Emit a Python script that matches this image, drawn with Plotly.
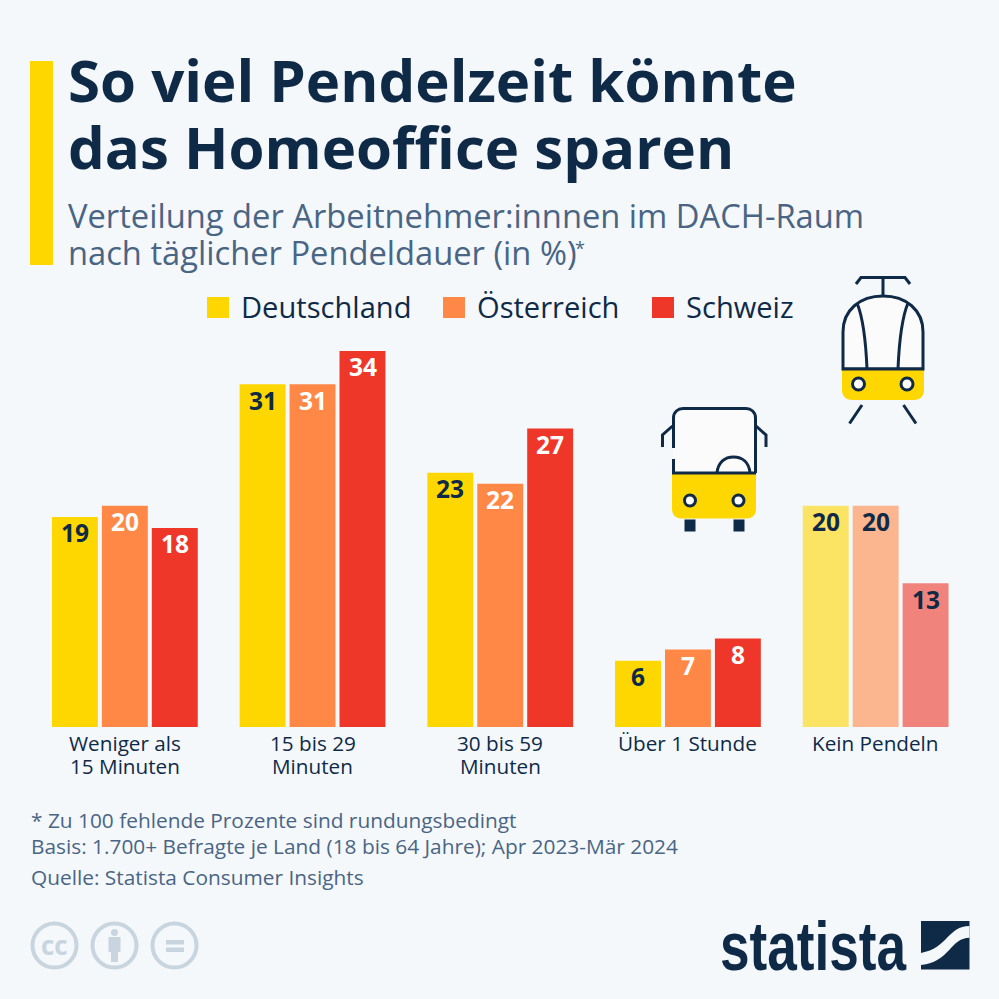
import plotly.graph_objects as go

kategorien = ["Weniger als<br>15 Minuten", "15 bis 29<br>Minuten", "30 bis 59<br>Minuten",
              "Über 1 Stunde", "Kein Pendeln"]
deutschland = [19, 31, 23, 6, 20]
oesterreich = [20, 31, 22, 7, 20]
schweiz = [18, 34, 27, 8, 13]
laender = ["Deutschland", "Österreich", "Schweiz"]

BG = "#f4f8fb"
NAVY = "#0f2a47"
GREY = "#4a6584"
GELB = "#ffd700"
ORANGE = "#ff8847"
ROT = "#ee3629"
ICON = "#c8d5df"
FENSTER = "#fbfbfc"
W = 999


def fx(x):
    return x / W


def fy(y):
    return 1 - y / W


# pfad in pixeln schreiben, wird in paper-koordinaten umgerechnet
def pfad(s):
    out, is_x = [], True
    for tok in s.split():
        if tok.isalpha():
            out.append(tok)
            is_x = True
        else:
            v = float(tok)
            out.append(f"{fx(v):.5f}" if is_x else f"{fy(v):.5f}")
            is_x = not is_x
    return " ".join(out)


shapes = []


def form(s, fill="rgba(0,0,0,0)", line=None, width=3):
    shapes.append(dict(type="path", xref="paper", yref="paper", path=pfad(s), fillcolor=fill,
                       line=dict(color=line or "rgba(0,0,0,0)", width=width if line else 0)))


def rechteck(x0, y0, x1, y1, fill):
    shapes.append(dict(type="rect", xref="paper", yref="paper", x0=fx(x0), x1=fx(x1), y0=fy(y0), y1=fy(y1),
                       fillcolor=fill, line=dict(width=0)))


def kreis(cx, cy, r, fill, line=None, width=3):
    shapes.append(dict(type="circle", xref="paper", yref="paper", x0=fx(cx - r), x1=fx(cx + r),
                       y0=fy(cy + r), y1=fy(cy - r), fillcolor=fill,
                       line=dict(color=line or "rgba(0,0,0,0)", width=width if line else 0)))


annos = []


def text(t, x, y, size, color=NAVY, font="Open Sans", anchor="left", weight=400):
    annos.append(dict(text=t, x=fx(x), y=fy(y), xref="paper", yref="paper", xanchor=anchor, yanchor="middle",
                      showarrow=False, borderpad=0, font=dict(family=font, size=size, color=color, weight=weight)))


fig = go.Figure()
reihen = [deutschland, oesterreich, schweiz]
schriftfarben = [[NAVY] * 5, ["#ffffff"] * 4 + [NAVY], ["#ffffff"] * 4 + [NAVY]]
for i, (name, werte, farbe) in enumerate(zip(laender, reihen, [GELB, ORANGE, ROT])):
    fig.add_bar(x=kategorien, y=werte, name=name,
                marker=dict(color=farbe, opacity=[1, 1, 1, 1, 0.6], line=dict(width=0)))
    # werte als annotation, damit sie so nah an der balkenkante sitzen wie im original
    for kat, wert, col in zip(kategorien, werte, schriftfarben[i]):
        annos.append(dict(text=str(wert), x=kat, y=wert, xref="x", yref="y", xanchor="center", yanchor="middle",
                          xshift=(i - 1) * 50, yshift=-16, showarrow=False, borderpad=0,
                          font=dict(family="Open Sans", size=24.5, color=col, weight=700)))

# kategorien, zeilenabstand der tick labels waere sonst zu gross
for kat in kategorien:
    for n, zeile in enumerate(kat.split("<br>")):
        annos.append(dict(text=zeile, x=kat, y=fy(743 + n * 23), xref="x", yref="paper", xanchor="center",
                          yanchor="middle", showarrow=False, borderpad=0,
                          font=dict(family="Open Sans", size=20.7, color=NAVY)))

# balken links
rechteck(30, 61, 53, 265, GELB)

# titel
text("So viel Pendelzeit könnte", 67, 80, 58.2, weight=700)
text("das Homeoffice sparen", 67, 146, 58.2, weight=700)
text("Verteilung der Arbeitnehmer:innnen im DACH-Raum", 66.5, 215, 32.7, GREY)
text("nach täglicher Pendeldauer (in %)", 66.5, 253, 32.7, GREY)
text("*", 574, 248, 18, GREY)

# legende
for name, farbe, x0 in zip(laender, [GELB, ORANGE, ROT], [207, 443, 652]):
    rechteck(x0, 297, x0 + 22, 318, farbe)
    text(name, x0 + 32.5, 307, 29.1)

# tram
form("M 883 296 L 883 277.5 M 856 284 L 861 277.5 L 905 277.5 L 910 284", line=NAVY)
form("M 843 369 L 843 332 C 843 310 860 296 883 296 C 906 296 923 310 923 332 L 923 369 Z", fill=FENSTER, line=NAVY)
form("M 857 303 C 864 320 866 345 867 369 M 908 303 C 901 320 899 345 898 369", line=NAVY)
form("M 842 369 L 924 369 L 924 390 C 924 396 920 400 914 400 L 852 400 C 846 400 842 396 842 390 Z", fill=GELB)
form("M 842 369 L 924 369", line=NAVY)
kreis(858.5, 384, 6, "#ffffff", NAVY)
kreis(907, 384, 6, "#ffffff", NAVY)
form("M 862 405 L 849.5 423.5 M 903.5 405 L 916 423.5", line=NAVY)

# bus
form("M 673.5 473 L 673.5 418 C 673.5 412 678 408.5 683 408.5 L 746 408.5 C 751 408.5 755.5 412 755.5 418 L 755.5 473 Z",
     fill=FENSTER)
form("M 673.5 448 L 673.5 418 C 673.5 412 678 408.5 683 408.5 L 746 408.5 C 751 408.5 755.5 412 755.5 418 L 755.5 473",
     line=NAVY)
form("M 673.5 459 L 673.5 473", line=NAVY)
form("M 672.5 426 L 662.5 435 L 662.5 447 M 756 426 L 766 435 L 766 447", line=NAVY)
form("M 717 473 C 718 462 725 457 733.5 457 C 742 457 749 462 750 473", line=NAVY)
form("M 672 473 L 756 473 L 756 509 C 756 515 752 518.5 747 518.5 L 681 518.5 C 676 518.5 672 515 672 509 Z", fill=GELB)
form("M 672 473 L 756 473", line=NAVY)
kreis(690, 500.5, 5.5, "#ffffff", NAVY)
kreis(738.5, 500.5, 5.5, "#ffffff", NAVY)
rechteck(684.5, 519.5, 695.5, 531.5, NAVY)
rechteck(733.5, 519.5, 744.5, 531.5, NAVY)

# fussnoten
text("* Zu 100 fehlende Prozente sind rundungsbedingt", 30, 820, 20.85, GREY)
text("Basis: 1.700+ Befragte je Land (18 bis 64 Jahre); Apr 2023-Mär 2024", 30, 846, 20.85, GREY)
text("Quelle: Statista Consumer Insights", 30, 877, 20.85, GREY)

# cc icons
for cx in [54.5, 114.5, 174.5]:
    kreis(cx, 945.5, 22, "rgba(0,0,0,0)", ICON, 4)
text("cc", 54.5, 945, 26, ICON, anchor="center", weight=700)
kreis(114.5, 932.5, 3.5, ICON)
rechteck(108.5, 937, 120.5, 952, ICON)
rechteck(111, 952, 118, 962, ICON)
rechteck(166, 940, 184, 944.5, ICON)
rechteck(166, 947.5, 184, 952, ICON)

# statista logo
text("statista", 813.5, 946, 68, NAVY, font="Liberation Sans", anchor="center", weight=700)
rechteck(921, 921, 969.5, 969.5, NAVY)
form("M 969.5 926 C 948 926 948 948 921 953 L 921 965 C 950 962 950 938 969.5 937.7 Z", fill=BG)

fig.update_layout(
    width=W, height=W, autosize=False, margin=dict(l=0, r=0, t=0, b=0),
    paper_bgcolor=BG, plot_bgcolor=BG, showlegend=False,
    barmode="group", bargap=0.2021, bargroupgap=0.08,
    shapes=shapes, annotations=annos,
    xaxis=dict(domain=[fx(31), fx(969.5)], range=[-0.5, 4.5], showgrid=False, zeroline=False, showline=False,
               ticks="", showticklabels=False),
    yaxis=dict(domain=[fy(727), fy(351)], range=[0, 34], visible=False),
)

# seitenrand weg, logo schmal ziehen
post = """
document.body.style.margin = '0';
document.querySelectorAll('.annotation-text').forEach(function (el) {
  if (el.textContent === 'statista') {
    el.setAttribute('textLength', '186');
    el.setAttribute('lengthAdjust', 'spacingAndGlyphs');
  }
});
"""
fig.write_html("out.html", post_script=post, config=dict(displayModeBar=False))
